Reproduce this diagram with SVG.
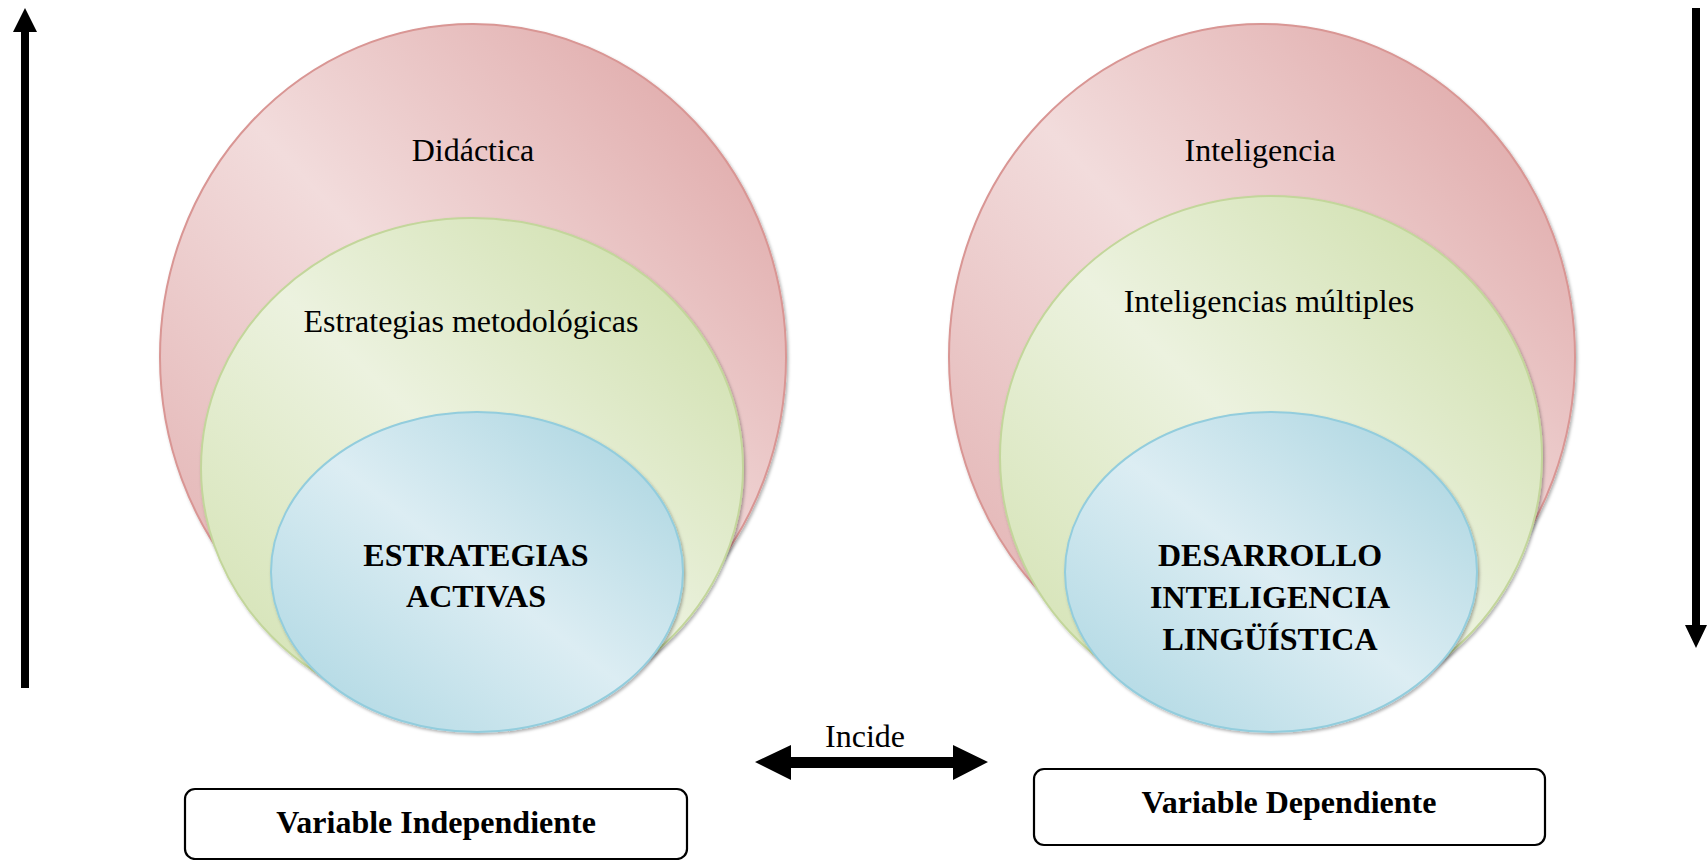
<svg xmlns="http://www.w3.org/2000/svg" width="1708" height="860" viewBox="0 0 1708 860">
<style>
.t{font-family:"Liberation Serif","Times New Roman",serif;font-size:32px;fill:#000;text-anchor:middle}
.b{font-weight:bold}
.box{fill:#fff;stroke:#000;stroke-width:2.2}
.red{fill:url(#gRed);stroke:#d99694;stroke-width:2}
.green{fill:url(#gGreen);stroke:#c3d69b;stroke-width:2}
.blue{fill:url(#gBlue);stroke:#93cddd;stroke-width:2}
.sh{filter:url(#shadow)}
</style>
<defs>
<linearGradient id="gRed" x1="1" y1="0" x2="0" y2="1">
<stop offset="0" stop-color="#dc9f9f"/>
<stop offset="0.5" stop-color="#f2dcdc"/>
<stop offset="1" stop-color="#e0acac"/>
</linearGradient>
<linearGradient id="gGreen" x1="1" y1="0" x2="0" y2="1">
<stop offset="0" stop-color="#cadca4"/>
<stop offset="0.5" stop-color="#ecf2df"/>
<stop offset="1" stop-color="#d0e0ad"/>
</linearGradient>
<linearGradient id="gBlue" x1="1" y1="0" x2="0" y2="1">
<stop offset="0" stop-color="#a5d2de"/>
<stop offset="0.5" stop-color="#dcedf3"/>
<stop offset="1" stop-color="#a9d5e1"/>
</linearGradient>
<filter id="shadow" x="-10%" y="-10%" width="120%" height="120%">
<feDropShadow dx="1.5" dy="2" stdDeviation="1.5" flood-color="#000" flood-opacity="0.3"/>
</filter>
</defs>

<g id="left-set">
<g id="didactica">
<ellipse class="red sh" cx="473" cy="357" rx="313" ry="333"/>
<text class="t" x="473" y="161">Didáctica</text>
</g>
<g id="estrategias-metodologicas">
<ellipse class="green sh" cx="472" cy="468" rx="271" ry="250"/>
<text class="t" x="471" y="332">Estrategias metodológicas</text>
</g>
<g id="estrategias-activas">
<ellipse class="blue sh" cx="477" cy="572" rx="206" ry="160"/>
<text class="t b" x="476" y="566">ESTRATEGIAS</text>
<text class="t b" x="476" y="607">ACTIVAS</text>
</g>
</g>

<g id="right-set">
<g id="inteligencia">
<ellipse class="red sh" cx="1262" cy="357" rx="313" ry="333"/>
<text class="t" x="1260" y="161">Inteligencia</text>
</g>
<g id="inteligencias-multiples">
<ellipse class="green sh" cx="1271" cy="457" rx="271" ry="261"/>
<text class="t" x="1269" y="312">Inteligencias múltiples</text>
</g>
<g id="desarrollo">
<ellipse class="blue sh" cx="1271" cy="572" rx="206" ry="160"/>
<text class="t b" x="1270" y="566">DESARROLLO</text>
<text class="t b" x="1270" y="608">INTELIGENCIA</text>
<text class="t b" x="1270" y="650">LINGÜÍSTICA</text>
</g>
</g>

<g id="var-independiente">
<rect class="box" x="185" y="789" width="502" height="70" rx="10"/>
<text class="t b" x="436" y="833">Variable Independiente</text>
</g>
<g id="var-dependiente">
<rect class="box" x="1034" y="769" width="511" height="76" rx="10"/>
<text class="t b" x="1289" y="813">Variable Dependiente</text>
</g>

<g id="connectors">
<polygon points="21,688 29,688 29,32 37,32 25,8 13,32 21,32" fill="#000"/>
<polygon points="1692,8 1700,8 1700,625 1707,625 1696,648 1685,625 1692,625" fill="#000"/>
<polygon points="755,762 791,745 791,757 953,757 953,745 988,762 953,780 953,768 791,768 791,780" fill="#000"/>
<text class="t" x="865" y="747">Incide</text>
</g>
</svg>
